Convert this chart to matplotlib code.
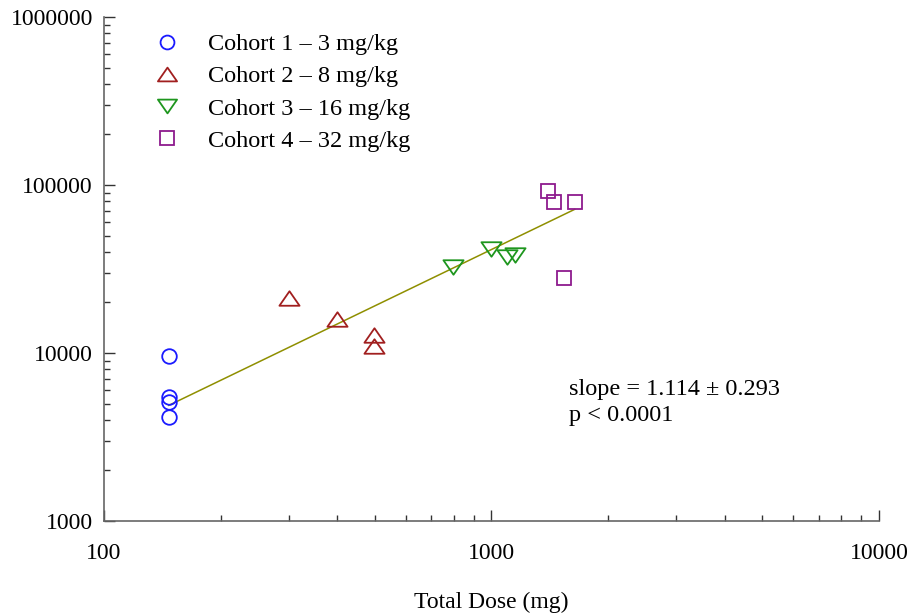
import matplotlib
matplotlib.use("Agg")
import matplotlib.pyplot as plt
import numpy as np
from matplotlib.path import Path

plt.rcParams["font.family"] = ["Liberation Serif", "DejaVu Serif"]

# total dose (mg) vs exposure, per cohort
c1_dose = [147, 147, 147, 147]
c1_auc = [9600, 5500, 5100, 4150]
c2_dose = [300, 400, 497, 497]
c2_auc = [21300, 16000, 12800, 11000]
c3_dose = [795, 1000, 1095, 1148]
c3_auc = [32700, 41700, 37200, 38500]
c4_dose = [1400, 1450, 1640, 1540]
c4_auc = [92500, 79500, 79500, 28000]

labels = ["Cohort 1 – 3 mg/kg", "Cohort 2 – 8 mg/kg",
          "Cohort 3 – 16 mg/kg", "Cohort 4 – 32 mg/kg"]

fit_slope = 1.114
fit_slope_se = 0.293
fit_intercept = 1.274  # log10 scale

tri_up = Path([(-1, -0.72), (1, -0.72), (0, 0.72), (-1, -0.72)],
              [Path.MOVETO, Path.LINETO, Path.LINETO, Path.CLOSEPOLY])
tri_down = Path([(-1, 0.72), (1, 0.72), (0, -0.72), (-1, 0.72)],
                [Path.MOVETO, Path.LINETO, Path.LINETO, Path.CLOSEPOLY])

fig = plt.figure(figsize=(9.12, 6.15), dpi=100)
ax = fig.add_axes([104 / 912, 1 - 521 / 615, 775 / 912, 504 / 615])

styles = [
    (c1_dose, c1_auc, "o", "#1a1aff", 10.5),
    (c2_dose, c2_auc, tri_up, "#a11f1f", 14.5),
    (c3_dose, c3_auc, tri_down, "#1e961e", 14.5),
    (c4_dose, c4_auc, "s", "#8e1a8e", 10.5),
]
for (x, y, m, c, ms), lab in zip(styles, labels):
    ax.plot(x, y, ls="none", marker=m, ms=ms, mfc="none", mec=c, mew=1.3,
            label=lab, zorder=3)

# fitted line through the observed doses
all_dose = np.sort(np.array(c1_dose + c2_dose + c3_dose + c4_dose, dtype=float))
fit_y = 10 ** (fit_intercept + fit_slope * np.log10(all_dose))
ax.plot(all_dose, fit_y, color="#8f8f00", lw=1.1, zorder=2)

ax.set_xscale("log")
ax.set_yscale("log")
ax.set_xlim(100, 10000)
ax.set_ylim(1000, 1000000)

ax.set_xticks([100, 1000, 10000])
ax.set_xticklabels(["100", "1000", "10000"])
ax.set_yticks([1000, 10000, 100000, 1000000])
ax.set_yticklabels(["1000", "10000", "100000", "1000000"])

for side in ("top", "right"):
    ax.spines[side].set_visible(False)
for side in ("left", "bottom"):
    ax.spines[side].set_color("#666666")
    ax.spines[side].set_linewidth(1.2)

ax.tick_params(which="major", direction="in", length=8, width=1.0,
               color="#333333", labelsize=17)
ax.tick_params(which="minor", direction="in", length=4.5, width=1.0,
               color="#333333")
ax.tick_params(axis="x", which="major", pad=16)
ax.tick_params(axis="y", which="major", pad=8)

ax.set_xlabel("Total Dose (mg)", fontsize=17, labelpad=20)

ax.text(0.6, 0.235,
        f"slope = {fit_slope:.3f} ± {fit_slope_se:.3f}\np < 0.0001",
        transform=ax.transAxes, fontsize=17.5, ha="left", va="center",
        linespacing=1.3)

ax.legend(loc="upper left", bbox_to_anchor=(52 / 775, 0.968), frameon=False,
          fontsize=17.5, handlelength=0.9, handletextpad=1.22, borderpad=0,
          borderaxespad=0, labelspacing=0.42, numpoints=1, markerscale=0.95)

fig.savefig("out.png", dpi=100)
